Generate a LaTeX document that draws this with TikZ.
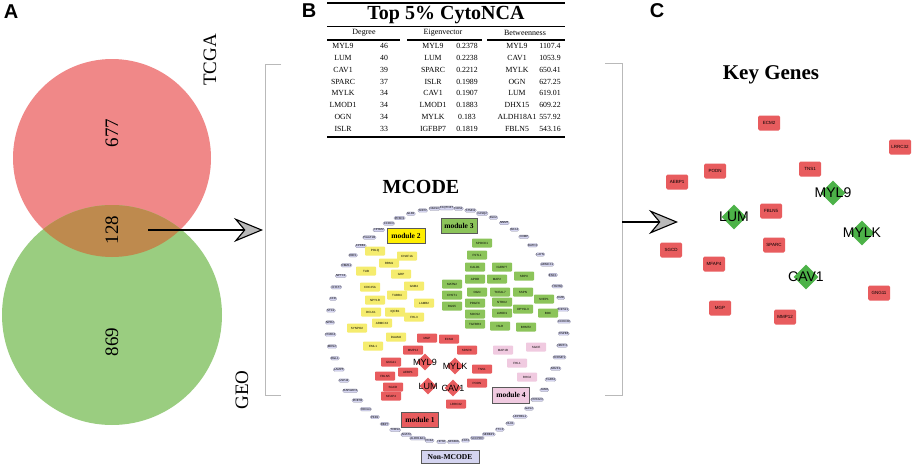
\documentclass[tikz,border=0pt]{standalone}
\usepackage{fontspec}
\setmainfont{Liberation Serif}
\setsansfont{Liberation Sans}
\usetikzlibrary{shapes.geometric,arrows.meta}

\definecolor{vennred}{RGB}{240,136,136}
\definecolor{venngreen}{RGB}{154,205,128}
\definecolor{vennboth}{RGB}{190,138,78}
\definecolor{hubred}{RGB}{232,92,94}
\definecolor{keygreen}{RGB}{76,178,72}
\definecolor{mthree}{RGB}{140,196,90}
\definecolor{mtwo}{RGB}{245,236,110}
\definecolor{mtwolbl}{RGB}{255,238,0}
\definecolor{mfour}{RGB}{240,202,224}
\definecolor{lav}{RGB}{212,212,240}

\tikzset{
  panellbl/.style={font=\sffamily\bfseries\fontsize{20}{20}\selectfont},
  vennnum/.style={rotate=90,font=\fontsize{19}{19}\selectfont},
  setname/.style={rotate=90,font=\fontsize{19}{19}\selectfont},
  tabtxt/.style={inner sep=0,font=\fontsize{7.8}{8}\selectfont},
  tabhead/.style={inner sep=0,font=\fontsize{8}{9}\selectfont},
  tabrule/.style={line width=1.2pt},
  ringgene/.style={draw=lav!65!black,fill=lav,line width=0.2pt,rounded corners=1.5pt,
    inner sep=0.8pt,font=\sffamily\fontsize{2.9}{3.2}\selectfont},
  mbox/.style={rounded corners=0.8pt,minimum width=20,minimum height=9,inner sep=0.5pt,
    font=\sffamily\fontsize{3}{3.5}\selectfont},
  modone/.style={mbox,fill=hubred},
  modtwo/.style={mbox,fill=mtwo},
  modthree/.style={mbox,fill=mthree},
  modfour/.style={mbox,fill=mfour},
  hubgene/.style={diamond,fill=hubred,minimum width=17,minimum height=17,inner sep=0},
  hublbl/.style={font=\sffamily\fontsize{9}{9}\selectfont},
  modlabel/.style={draw=gray!70!black,line width=0.6pt,inner sep=0,minimum height=15,
    font=\bfseries\fontsize{7.5}{8}\selectfont},
  keygene/.style={fill=hubred,rounded corners=1.5pt,minimum width=22,minimum height=15,
    inner sep=0.5pt,font=\sffamily\fontsize{4.5}{5}\selectfont},
  keyhub/.style={diamond,fill=keygreen,minimum width=25,minimum height=25,inner sep=0},
  keylbl/.style={font=\sffamily\fontsize{14}{14}\selectfont},
  bigarrow/.style={line width=1.1pt,-{Stealth[length=29pt,width=24pt,inset=10pt,fill=gray!55]}},
  bracketline/.style={draw=gray!55,line width=0.7pt}
}

\begin{document}
\begin{tikzpicture}[x=1pt,y=-1pt]
\useasboundingbox[fill=white] (0,0) rectangle (913,466);

\node[panellbl] (lblA) at (11,12) {A};
\node[panellbl] (lblB) at (309,11) {B};
\node[panellbl] (lblC) at (657,11) {C};

\fill[vennred] (112,158) circle (99);
\fill[venngreen] (112,315) circle (110);
\begin{scope}
\clip (112,158) circle (99);
\fill[vennboth] (112,315) circle (110);
\end{scope}
\node[vennnum] (tcgaonly) at (112,133) {677};
\node[vennnum] (common) at (112,230) {128};
\node[vennnum] (geoonly) at (112,342) {869};
\node[setname] (tcga) at (210,60) {TCGA};
\node[setname] (geo) at (242,390) {GEO};

\draw[bracketline] (281,64) -- (265,64) -- (265,395) -- (281,395);
\draw[bracketline] (605,63) -- (622,63) -- (622,395) -- (605,395);
\coordinate (venntail) at (148,230);
\coordinate (bracketin) at (263,230);
\coordinate (bracketout) at (622,222);
\coordinate (keyin) at (678,222);
\draw[bigarrow] (venntail) -- (bracketin);
\draw[bigarrow] (bracketout) -- (keyin);

\draw[tabrule] (327,3) -- (565,3);
\node[font=\bfseries\fontsize{20}{20}\selectfont] (cytonca) at (446,15) {Top 5\% CytoNCA};
\draw[line width=0.8pt] (327,26) -- (565,26);
\node[tabhead] (hdeg) at (364,33) {Degree};
\node[tabhead] (heig) at (443,33) {Eigenvector};
\node[tabhead] (hbet) at (525,33) {Betweenness};
\draw[tabrule] (327,40) -- (400,40);
\draw[tabrule] (407,40) -- (482,40);
\draw[tabrule] (487,40) -- (565,40);
\draw[tabrule] (327,137) -- (565,137);
\node[tabtxt] (dg1) at (343,46) {MYL9};   \node[tabtxt] (dv1) at (384,46) {46};
\node[tabtxt] (dg2) at (343,58) {LUM};    \node[tabtxt] (dv2) at (384,58) {40};
\node[tabtxt] (dg3) at (343,70) {CAV1};   \node[tabtxt] (dv3) at (384,70) {39};
\node[tabtxt] (dg4) at (343,82) {SPARC};  \node[tabtxt] (dv4) at (384,82) {37};
\node[tabtxt] (dg5) at (343,93) {MYLK};   \node[tabtxt] (dv5) at (384,93) {34};
\node[tabtxt] (dg6) at (343,105) {LMOD1}; \node[tabtxt] (dv6) at (384,105) {34};
\node[tabtxt] (dg7) at (343,117) {OGN};   \node[tabtxt] (dv7) at (384,117) {34};
\node[tabtxt] (dg8) at (343,129) {ISLR};  \node[tabtxt] (dv8) at (384,129) {33};
\node[tabtxt] (eg1) at (433,46) {MYL9};   \node[tabtxt] (ev1) at (467,46) {0.2378};
\node[tabtxt] (eg2) at (433,58) {LUM};    \node[tabtxt] (ev2) at (467,58) {0.2238};
\node[tabtxt] (eg3) at (433,70) {SPARC};  \node[tabtxt] (ev3) at (467,70) {0.2212};
\node[tabtxt] (eg4) at (433,82) {ISLR};   \node[tabtxt] (ev4) at (467,82) {0.1989};
\node[tabtxt] (eg5) at (433,93) {CAV1};   \node[tabtxt] (ev5) at (467,93) {0.1907};
\node[tabtxt] (eg6) at (433,105) {LMOD1}; \node[tabtxt] (ev6) at (467,105) {0.1883};
\node[tabtxt] (eg7) at (433,117) {MYLK};  \node[tabtxt] (ev7) at (467,117) {0.183};
\node[tabtxt] (eg8) at (433,129) {IGFBP7};\node[tabtxt] (ev8) at (467,129) {0.1819};
\node[tabtxt] (bg1) at (517,46) {MYL9};   \node[tabtxt] (bv1) at (550,46) {1107.4};
\node[tabtxt] (bg2) at (517,58) {CAV1};   \node[tabtxt] (bv2) at (550,58) {1053.9};
\node[tabtxt] (bg3) at (517,70) {MYLK};   \node[tabtxt] (bv3) at (550,70) {650.41};
\node[tabtxt] (bg4) at (517,82) {OGN};    \node[tabtxt] (bv4) at (550,82) {627.25};
\node[tabtxt] (bg5) at (517,93) {LUM};    \node[tabtxt] (bv5) at (550,93) {619.01};
\node[tabtxt] (bg6) at (517,105) {DHX15}; \node[tabtxt] (bv6) at (550,105) {609.22};
\node[tabtxt] (bg7) at (517,117) {ALDH18A1}; \node[tabtxt] (bv7) at (550,117) {557.92};
\node[tabtxt] (bg8) at (517,129) {FBLN5}; \node[tabtxt] (bv8) at (550,129) {543.16};

\node[font=\bfseries\fontsize{20}{20}\selectfont] (mcode) at (421,187) {MCODE};
\coordinate (ringc) at (447,325);
\foreach \g [count=\k from 0] in {SDPR,NFASC,C1QTNF7,NOS1,STMN2,CASQ2,DLK2,NNMT,BEX4,COMP,
  BATF3,LAYN,ARMCX1,ENC1,HSPB8,DMD,ZNF521,CCDC68,HSPB6,NBPF3,EFEMP1,NR2F1,TGFB2,JAM3,
  PRSS23,GAS2,LEPREL1,DLK1,TTC3,SERBP1,SCCPDH,FAT3,NFKBIA,HPSE,PDK4,ALDH18A1,ADAT3,THBS4,
  RBP7,PKD2,HOXA4,PDE7B,RAPGEF3,USP44,LAMP5,RGL1,MDS2,PDZD4,NPR2,STC2,CFD,CHST7,NPTX1,
  RBM11,EBF1,CPEB1,PGGT1B,CPXM2,CCDC3,PRKD1,GLB1}
  \path (ringc) ++(258+5.9*\k:117) node[ringgene] (r\k) {\g};

\node[modtwo] (y1) at (375,251) {POLQ};
\node[modtwo] (y2) at (407,256) {CHAF1A};
\node[modtwo] (y3) at (389,263) {RRM1};
\node[modtwo] (y4) at (366,271) {TUB};
\node[modtwo] (y5) at (401,274) {GRP};
\node[modtwo] (y6) at (370,287) {CDC25A};
\node[modtwo] (y7) at (414,286) {GNB4};
\node[modtwo] (y8) at (397,295) {TUBB4};
\node[modtwo] (y9) at (375,300) {NPY1R};
\node[modtwo] (y10) at (424,303) {LAMB2};
\node[modtwo] (y11) at (371,312) {DCLK1};
\node[modtwo] (y12) at (395,312) {IQCB1};
\node[modtwo] (y13) at (414,317) {FHL3};
\node[modtwo] (y14) at (382,323) {ARMCX2};
\node[modtwo] (y15) at (357,328) {SYNPO2};
\node[modtwo] (y16) at (396,337) {DAAM2};
\node[modtwo] (y17) at (373,346) {EML1};

\node[modthree] (g1) at (482,243) {SPOCK1};
\node[modthree] (g2) at (477,255) {FSTL1};
\node[modthree] (g3) at (475,267) {CALD1};
\node[modthree] (g4) at (502,267) {IGFBP7};
\node[modthree] (g5) at (524,276) {SRPX};
\node[modthree] (g6) at (475,279) {APOD};
\node[modthree] (g7) at (497,279) {MAP2};
\node[modthree] (g8) at (452,284) {MATN2};
\node[modthree] (g9) at (477,292) {OGN};
\node[modthree] (g10) at (500,292) {TCEAL7};
\node[modthree] (g11) at (523,292) {SSPN};
\node[modthree] (g12) at (452,295) {CHST1};
\node[modthree] (g13) at (475,303) {PDGFC};
\node[modthree] (g14) at (502,302) {NTRK2};
\node[modthree] (g15) at (544,299) {SVEP1};
\node[modthree] (g16) at (452,306) {RGS5};
\node[modthree] (g17) at (475,314) {SOCS2};
\node[modthree] (g18) at (502,313) {LMOD1};
\node[modthree] (g19) at (523,309) {DPYSL3};
\node[modthree] (g20) at (548,313) {BOC};
\node[modthree] (g21) at (475,324) {TGFBR3};
\node[modthree] (g22) at (500,326) {ISLR};
\node[modthree] (g23) at (526,327) {BHMT2};

\node[modfour] (p1) at (503,350) {MAP1B};
\node[modfour] (p2) at (536,347) {SGCE};
\node[modfour] (p3) at (517,363) {FHL1};
\node[modfour] (p4) at (527,377) {RHOJ};

\node[modone] (m1) at (427,338) {MGP};
\node[modone] (m2) at (449,339) {ECM2};
\node[modone] (m3) at (413,350) {MMP12};
\node[modone] (m4) at (467,350) {SPARC};
\node[modone] (m5) at (391,362) {GNG11};
\node[modone] (m6) at (482,369) {TNS1};
\node[modone] (m7) at (385,376) {FBLN5};
\node[modone] (m8) at (408,372) {AEBP1};
\node[modone] (m9) at (393,387) {SGCD};
\node[modone] (m10) at (477,383) {PODN};
\node[modone] (m11) at (391,396) {MFAP4};
\node[modone] (m12) at (456,404) {LRRC32};
\node[hubgene,label={[hublbl]center:MYL9}] (hmyl9) at (425,362) {};
\node[hubgene,label={[hublbl]center:MYLK}] (hmylk) at (455,366) {};
\node[hubgene,label={[hublbl]center:LUM}] (hlum) at (428,386) {};
\node[hubgene,label={[hublbl]center:CAV1}] (hcav1) at (453,388) {};

\node[modlabel,fill=mtwolbl,minimum width=38] (lbl2) at (406,236) {module 2};
\node[modlabel,fill=mthree,minimum width=36] (lbl3) at (459,226) {module 3};
\node[modlabel,fill=hubred,minimum width=37] (lbl1) at (420,420) {module 1};
\node[modlabel,fill=mfour,minimum width=37,minimum height=16] (lbl4) at (511,395) {module 4};
\node[modlabel,fill=lav,minimum width=58,minimum height=13] (lblnon) at (450,457) {Non-MCODE};

\node[font=\bfseries\fontsize{21}{21}\selectfont] (keygenes) at (771,75) {Key Genes};
\node[keygene] (kecm2) at (769,123) {ECM2};
\node[keygene] (klrrc32) at (900,147) {LRRC32};
\node[keygene] (kpodn) at (715,171) {PODN};
\node[keygene] (ktns1) at (810,169) {TNS1};
\node[keygene] (kaebp1) at (677,182) {AEBP1};
\node[keygene] (kfbln5) at (771,211) {FBLN5};
\node[keygene] (ksgcd) at (671,250) {SGCD};
\node[keygene] (ksparc) at (774,245) {SPARC};
\node[keygene] (kmfap4) at (714,264) {MFAP4};
\node[keygene] (kgng11) at (879,293) {GNG11};
\node[keygene] (kmgp) at (720,308) {MGP};
\node[keygene] (kmmp12) at (785,317) {MMP12};
\node[keyhub,label={[keylbl]center:MYL9}] (kmyl9) at (833,193) {};
\node[keyhub,label={[keylbl]center:LUM}] (klum) at (734,217) {};
\node[keyhub,label={[keylbl]center:MYLK}] (kmylk) at (862,233) {};
\node[keyhub,label={[keylbl]center:CAV1}] (kcav1) at (806,277) {};
\end{tikzpicture}
\end{document}
